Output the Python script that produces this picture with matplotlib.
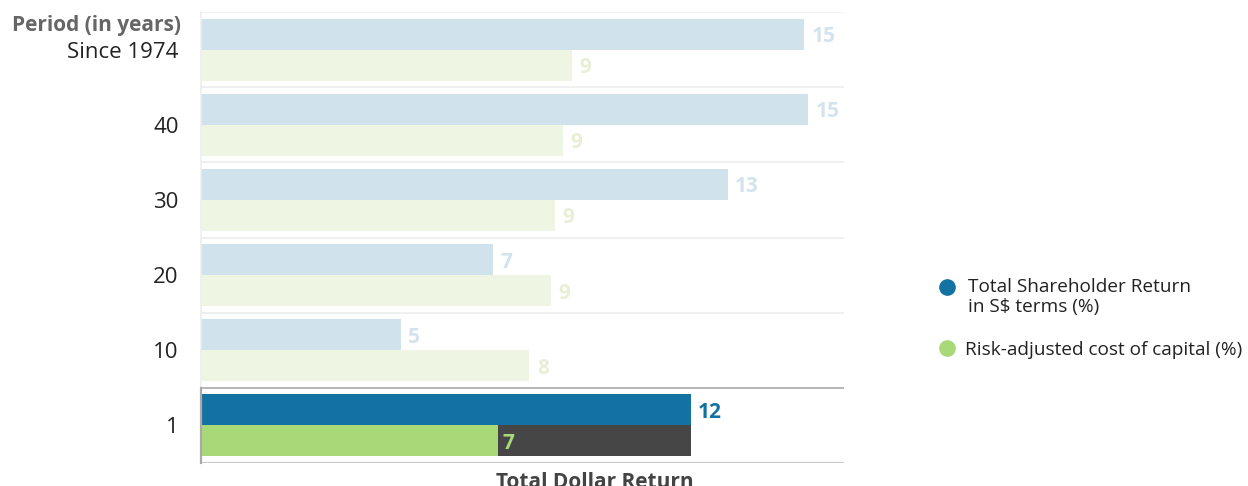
import matplotlib
matplotlib.use("Agg")
import matplotlib.pyplot as plt
from matplotlib.lines import Line2D

plt.rcParams['font.family'] = ['Open Sans', 'DejaVu Sans']

periods = ["Since 1974", "40", "30", "20", "10", "1"]
tsr = [14.78, 14.88, 12.91, 7.15, 4.89, 12.0]
tsr_labels = ["15", "15", "13", "7", "5", "12"]
coc = [9.09, 8.87, 8.67, 8.58, 8.05, 7.27]
coc_labels = ["9", "9", "9", "9", "8", "7"]

blue_light = "#d0e2ec"
green_light = "#eef6e3"
blue_text_light = "#d3e3ee"
green_text_light = "#e9efd5"
blue = "#1472a3"
green = "#a8d877"
dark = "#464646"

fig = plt.figure(figsize=(12.48, 4.86), dpi=100)
ax = fig.add_axes([201/1248, 1-463/486, (844-201)/1248, (463-12)/486])

n = len(periods)
bh = 31/75
for i in range(n):
    last = (i == n - 1)
    cb = blue if last else blue_light
    cg = green if last else green_light
    ax.barh(i - bh/2, tsr[i], height=bh, color=cb, align='center', linewidth=0)
    ax.barh(i + bh/2, coc[i], height=bh, color=cg, align='center', linewidth=0)
    tb = blue if last else blue_text_light
    tg = green if last else green_text_light
    ax.text(tsr[i] + 0.18, i - bh/2, tsr_labels[i], color=tb, fontsize=15,
            fontweight='bold', va='center_baseline', ha='left')
    if last:
        ax.barh(i + bh/2, tsr[i] - coc[i], left=coc[i], height=bh, color=dark,
                align='center', linewidth=0)
    ax.text(coc[i] + 0.12 if last else coc[i] + 0.18, i + bh/2, coc_labels[i],
            color=tg, fontsize=15, fontweight='bold', va='center_baseline', ha='left')

ax.set_xlim(0, 15.76)
ax.set_ylim(n - 0.5, -0.5)
for s in ax.spines.values():
    s.set_visible(False)
ax.set_xticks([])
ax.set_yticks([])

# separators
for k in range(n):
    yb = k - 0.5
    col = "#aaaaaa" if k == n - 1 else "#eeeeee"
    ax.axhline(yb, color=col, linewidth=1.2, zorder=3)
ax.axhline(n - 0.5, color="#cccccc", linewidth=1.6, zorder=3)
ax.plot([0, 0], [-0.5, n - 1.5], color="#eeeeee", linewidth=1.2, zorder=3, clip_on=False)
ax.plot([0, 0], [n - 1.5, n - 0.5], color="#aaaaaa", linewidth=1.6, zorder=3, clip_on=False)

# y labels
for i, p in enumerate(periods):
    ax.text(-0.55, i, p, ha='right', va='center_baseline', fontsize=16, color="#222222")
ax.text(-0.48, -0.36, "Period (in years)", ha='right', va='center_baseline', fontsize=15,
        fontweight='bold', color="#666666")

fig.text(595/1248, 1-480/486, "Total Dollar Return", ha='center', va='center_baseline',
         fontsize=15, fontweight='bold', color="#444444")

# legend
fig.add_artist(Line2D([947/1248], [1-287/486], marker='o', markersize=11, color=blue,
                      linestyle='None', transform=fig.transFigure))
fig.add_artist(Line2D([947/1248], [1-348/486], marker='o', markersize=11, color=green,
                      linestyle='None', transform=fig.transFigure))
fig.text(968/1248, 1-297/486, "Total Shareholder Return\nin S$ terms (%)", ha='left',
         va='center', fontsize=13.7, color="#222222", linespacing=1.2)
fig.text(965/1248, 1-348/486, "Risk-adjusted cost of capital (%)", ha='left',
         va='center_baseline', fontsize=13.7, color="#222222")

fig.savefig("out.png", dpi=100)
